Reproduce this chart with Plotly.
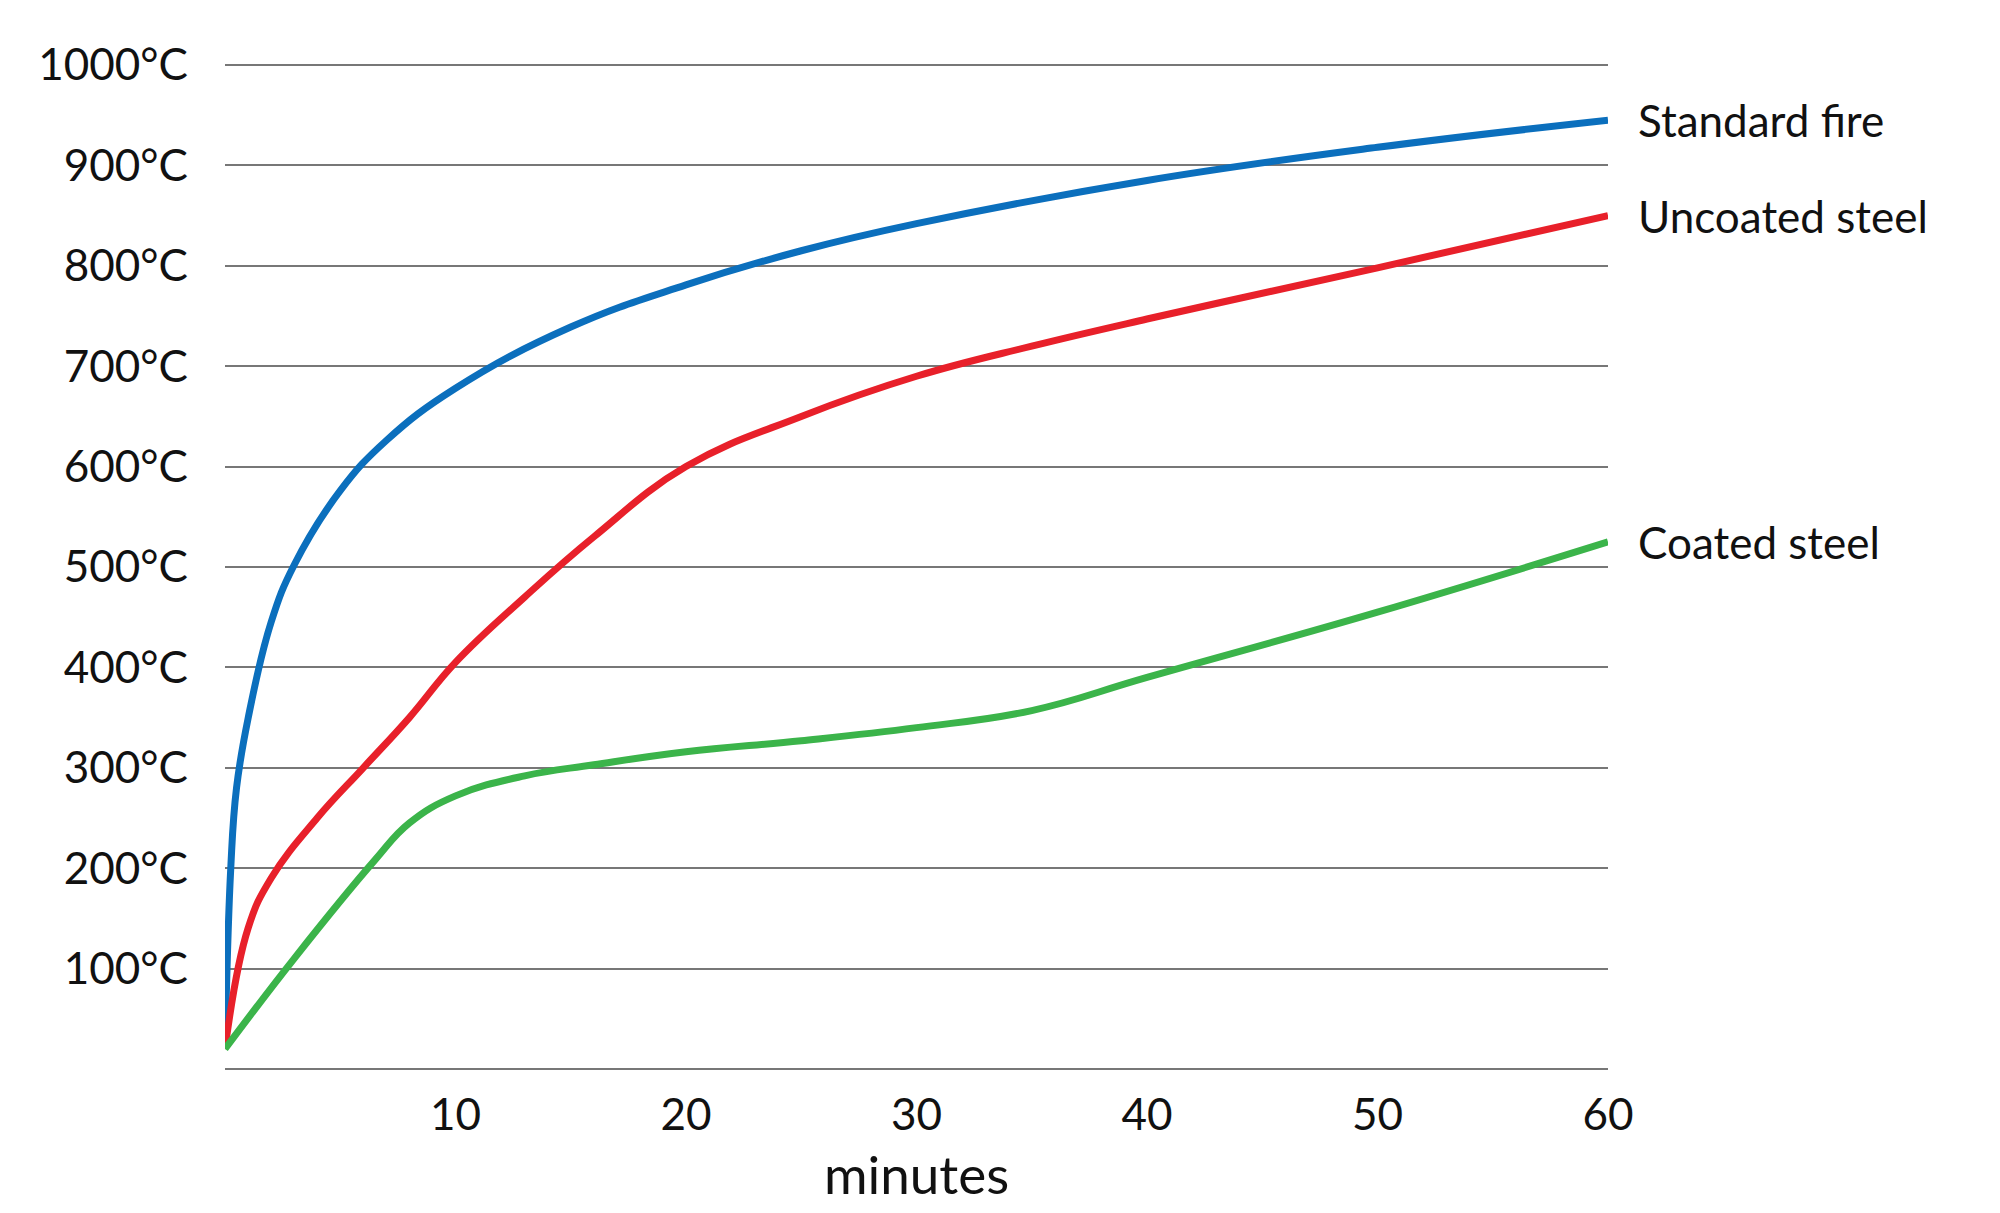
import plotly.graph_objects as go

fire_t = [0, 0.25, 0.5, 1, 2, 3, 5, 7, 10, 15, 20, 25, 30, 40, 50, 60]
fire_c = [20, 200, 280, 349, 445, 502, 576, 626, 678, 739, 781, 815, 842, 885, 918, 945]

uncoated_t = [0, 1, 2, 4, 6, 8, 10, 13, 16, 20, 25, 30, 35, 40, 50, 60]
uncoated_c = [20, 140, 190, 250, 300, 350, 405, 470, 530, 600, 650, 690, 720, 747, 798, 850]

coated_t = [0, 3, 6.5, 8, 10, 13, 16, 20, 25, 30, 35, 40, 50, 60]
coated_c = [20, 110, 208, 245, 272, 292, 303, 316, 327, 340, 357, 390, 455, 525]

series = [
    ("Standard fire", fire_t, fire_c, "#0b6fbd"),
    ("Uncoated steel", uncoated_t, uncoated_c, "#e8202a"),
    ("Coated steel", coated_t, coated_c, "#3bb44a"),
]

y_ticks = list(range(0, 1001, 100))
y_labels = [""] + [f"{v}°C" for v in y_ticks[1:]]
x_ticks = [10, 20, 30, 40, 50, 60]

fig = go.Figure()
for name, t, c, color in series:
    fig.add_trace(go.Scatter(x=t, y=c, mode="lines", name=name,
                             line=dict(color=color, width=7, shape="spline", smoothing=1.2)))
    fig.add_annotation(x=t[-1], y=c[-1], text=name, showarrow=False, xanchor="left",
                       xshift=28, font=dict(size=44, color="#111"))

fig.update_layout(
    width=2000, height=1213, showlegend=False,
    plot_bgcolor="white", paper_bgcolor="white",
    margin=dict(l=217, r=400, t=54, b=150),
    font=dict(family="Lato, Open Sans, sans-serif", size=44, color="#111"),
    xaxis=dict(range=[0, 60], tickvals=x_ticks, showgrid=False, zeroline=False,
               ticks="", ticklabelstandoff=14, title=dict(text="minutes", standoff=18)),
    yaxis=dict(range=[-2, 1003], tickvals=y_ticks, ticktext=y_labels, showgrid=True,
               gridcolor="#777", gridwidth=1.5, zeroline=False, ticks="",
               ticklabelstandoff=36),
)
fig.write_html("out.html")
